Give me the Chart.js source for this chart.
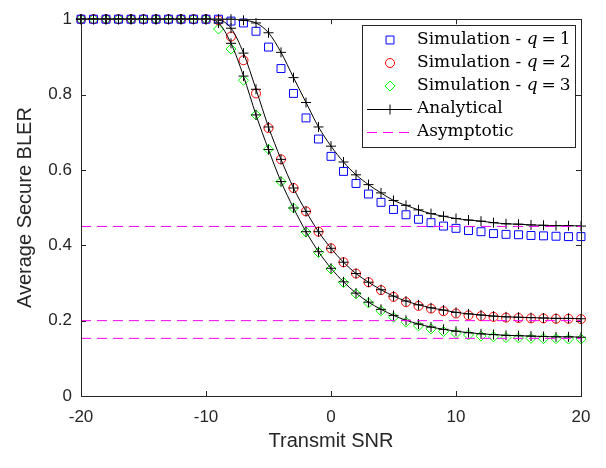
<!DOCTYPE html>
<html>
<head>
<meta charset="utf-8">
<script src="https://cdn.jsdelivr.net/npm/chart.js@4.4.0/dist/chart.umd.min.js"></script>
<style>
  html, body { margin: 0; padding: 0; background: #fff; }
  #wrap { width: 606px; height: 468px; }
</style>
</head>
<body>
<div id="wrap"><canvas id="bler"></canvas></div>
<script>
// Transmit SNR grid (dB)
const snr = [-20, -19, -18, -17, -16, -15, -14, -13, -12, -11, -10, -9, -8, -7, -6, -5, -4, -3, -2, -1,
  0, 1, 2, 3, 4, 5, 6, 7, 8, 9, 10, 11, 12, 13, 14, 15, 16, 17, 18, 19, 20];

// Monte Carlo results
const simQ1 = [1, 1, 1, 1, 1, 1, 1, 1, 1, 1, 1, 1, 0.995, 0.99, 0.968, 0.926, 0.869, 0.803, 0.738, 0.682,
  0.636, 0.596, 0.564, 0.536, 0.514, 0.495, 0.481, 0.469, 0.46, 0.451, 0.445, 0.439, 0.436, 0.431, 0.429, 0.428,
  0.426, 0.425, 0.424, 0.423, 0.423];
const simQ2 = [1, 1, 1, 1, 1, 1, 1, 1, 1, 1, 1, 0.997, 0.954, 0.891, 0.803, 0.711, 0.628, 0.552, 0.49, 0.436,
  0.392, 0.355, 0.325, 0.302, 0.281, 0.263, 0.249, 0.239, 0.232, 0.225, 0.219, 0.214, 0.212, 0.21, 0.208, 0.207,
  0.206, 0.206, 0.205, 0.205, 0.204];
const simQ3 = [1, 1, 1, 1, 1, 1, 1, 1, 1, 1, 1, 0.974, 0.921, 0.838, 0.746, 0.655, 0.569, 0.499, 0.435, 0.381,
  0.337, 0.301, 0.271, 0.247, 0.226, 0.209, 0.196, 0.186, 0.178, 0.171, 0.166, 0.162, 0.159, 0.157, 0.155, 0.154,
  0.153, 0.152, 0.152, 0.151, 0.151];

// Closed-form expressions
const anaQ1 = [1, 1, 1, 1, 1, 1, 1, 1, 1, 1, 1, 1, 1, 0.997, 0.99, 0.964, 0.912, 0.845, 0.779, 0.714,
  0.663, 0.621, 0.587, 0.561, 0.539, 0.519, 0.506, 0.494, 0.484, 0.477, 0.471, 0.467, 0.464, 0.46, 0.457, 0.456,
  0.454, 0.453, 0.452, 0.452, 0.451];
const anaQ2 = [1, 1, 1, 1, 1, 1, 1, 1, 1, 1, 1, 0.998, 0.976, 0.91, 0.814, 0.714, 0.628, 0.552, 0.49, 0.436,
  0.392, 0.355, 0.325, 0.302, 0.282, 0.265, 0.252, 0.242, 0.234, 0.228, 0.222, 0.218, 0.215, 0.212, 0.21, 0.209,
  0.208, 0.207, 0.206, 0.206, 0.205];
const anaQ3 = [1, 1, 1, 1, 1, 1, 1, 1, 1, 1, 1, 0.99, 0.936, 0.849, 0.746, 0.654, 0.569, 0.499, 0.436, 0.383,
  0.339, 0.303, 0.273, 0.249, 0.23, 0.214, 0.201, 0.191, 0.183, 0.177, 0.172, 0.168, 0.165, 0.163, 0.161, 0.16,
  0.159, 0.158, 0.157, 0.157, 0.156];

// High-SNR floors
const asymptotes = [0.45, 0.2, 0.153];

const xTicks = [-20, -10, 0, 10, 20];
const yTicks = [0, 0.2, 0.4, 0.6, 0.8, 1];

const axisColor = '#262626';
const pts = ys => snr.map((x, i) => ({ x: x, y: ys[i] }));
const flat = v => [{ x: snr[0], y: v }, { x: snr[snr.length - 1], y: v }];

const simStyle = (ys, color, shape, r) => ({
  data: pts(ys), showLine: false, pointStyle: shape, pointRadius: r,
  pointBorderColor: color, pointBackgroundColor: 'rgba(0,0,0,0)', pointBorderWidth: 1,
  borderColor: color, clip: false, order: 3
});
const anaStyle = ys => ({
  data: pts(ys), showLine: true, borderColor: '#000', borderWidth: 1,
  cubicInterpolationMode: 'monotone', pointStyle: 'cross', pointRadius: 5,
  pointBorderColor: '#000', pointBorderWidth: 1, clip: false, order: 2
});
const asyStyle = v => ({
  data: flat(v), showLine: true, borderColor: '#ff00ff', borderWidth: 1,
  borderDash: [10, 6], pointRadius: 0, order: 1
});

// Box, inward ticks, axis titles and the legend are drawn by hand
const framePlugin = {
  id: 'frame',
  afterDatasetsDraw(chart) {
    const { ctx, chartArea: a, scales } = chart;
    ctx.save();
    ctx.strokeStyle = axisColor;
    ctx.lineWidth = 1;
    ctx.strokeRect(Math.round(a.left) + 0.5, Math.round(a.top) + 0.5,
      Math.round(a.right - a.left), Math.round(a.bottom - a.top));
    ctx.beginPath();
    xTicks.forEach(t => {
      const px = Math.round(scales.x.getPixelForValue(t)) + 0.5;
      ctx.moveTo(px, a.bottom); ctx.lineTo(px, a.bottom - 5);
      ctx.moveTo(px, a.top); ctx.lineTo(px, a.top + 5);
    });
    yTicks.forEach(t => {
      const py = Math.round(scales.y.getPixelForValue(t)) + 0.5;
      ctx.moveTo(a.left, py); ctx.lineTo(a.left + 5, py);
      ctx.moveTo(a.right, py); ctx.lineTo(a.right - 5, py);
    });
    ctx.stroke();
    ctx.restore();
  },
  afterDraw(chart) {
    const { ctx, chartArea: a } = chart;
    ctx.save();
    ctx.fillStyle = axisColor;
    ctx.font = '20px "Liberation Sans", Arial, sans-serif';
    ctx.textAlign = 'center';
    ctx.textBaseline = 'middle';
    ctx.fillText('Transmit SNR', (a.left + a.right) / 2, 441);
    ctx.translate(25, (a.top + a.bottom) / 2);
    ctx.rotate(-Math.PI / 2);
    ctx.fillText('Average Secure BLER', 0, 0);
    ctx.restore();

    // legend
    const L = 362.5, T = 25.5, W = 213, H = 122;
    ctx.save();
    ctx.fillStyle = '#fff';
    ctx.fillRect(L, T, W, H);
    ctx.strokeStyle = axisColor;
    ctx.lineWidth = 1;
    ctx.strokeRect(L, T, W, H);
    const rows = [40, 63, 86, 109, 132];
    const sym = 390, textX = 417;
    const serif = '"DejaVu Serif", "Liberation Serif", serif';
    const labelQ = (y, q) => {
      ctx.font = '17px ' + serif;
      ctx.fillStyle = '#000';
      ctx.textAlign = 'left';
      ctx.textBaseline = 'middle';
      let x = textX;
      ctx.fillText('Simulation - ', x, y); x += ctx.measureText('Simulation - ').width;
      ctx.font = 'italic 17px ' + serif;
      ctx.fillText('q', x, y); x += ctx.measureText('q').width + 4;
      ctx.font = '17px ' + serif;
      ctx.fillText('=', x, y); x += ctx.measureText('=').width + 4;
      ctx.fillText(String(q), x, y);
    };
    const ds = chart.data.datasets;
    const drawSym = (i, y) => {
      const d = ds[i];
      ctx.strokeStyle = d.pointBorderColor;
      ctx.fillStyle = 'rgba(0,0,0,0)';
      ctx.lineWidth = 1;
      Chart.helpers.drawPoint(ctx, { pointStyle: d.pointStyle, radius: d.pointRadius, borderWidth: 1, rotation: 0 }, sym, y);
    };
    drawSym(0, rows[0]); labelQ(rows[0], 1);
    drawSym(1, rows[1]); labelQ(rows[1], 2);
    drawSym(2, rows[2]); labelQ(rows[2], 3);
    // analytical sample
    ctx.strokeStyle = '#000';
    ctx.beginPath(); ctx.moveTo(367, rows[3] + 0.5); ctx.lineTo(412, rows[3] + 0.5); ctx.stroke();
    ctx.fillStyle = 'rgba(0,0,0,0)';
    Chart.helpers.drawPoint(ctx, { pointStyle: 'cross', radius: 5, borderWidth: 1, rotation: 0 }, sym, rows[3] + 0.5);
    ctx.fillStyle = '#000';
    ctx.font = '17px ' + serif;
    ctx.fillText('Analytical', textX, rows[3]);
    // asymptotic sample
    ctx.strokeStyle = '#ff00ff';
    ctx.setLineDash([10, 6]);
    ctx.beginPath(); ctx.moveTo(367, rows[4] + 0.5); ctx.lineTo(412, rows[4] + 0.5); ctx.stroke();
    ctx.setLineDash([]);
    ctx.fillText('Asymptotic', textX, rows[4]);
    ctx.restore();
  }
};

const tickFont = { family: '"Liberation Sans", Arial, sans-serif', size: 17 };

new Chart(document.getElementById('bler'), {
  type: 'scatter',
  data: {
    datasets: [
      simStyle(simQ1, '#0000ff', 'rect', 5.6),
      simStyle(simQ2, '#ff0000', 'circle', 4.5),
      simStyle(simQ3, '#00ff00', 'rectRot', 5),
      anaStyle(anaQ1), anaStyle(anaQ2), anaStyle(anaQ3),
      ...asymptotes.map(asyStyle)
    ]
  },
  options: {
    responsive: true,
    maintainAspectRatio: false,
    animation: false,
    events: [],
    layout: { padding: { top: 15, right: 25, left: 0, bottom: 0 } },
    plugins: { legend: { display: false }, tooltip: { enabled: false } },
    scales: {
      x: {
        type: 'linear', min: -20, max: 20,
        afterBuildTicks: s => { s.ticks = xTicks.map(v => ({ value: v })); },
        afterFit: s => { s.height = 72; },
        grid: { display: false, drawTicks: false },
        border: { display: false },
        ticks: { color: axisColor, padding: 11, font: tickFont, callback: v => String(v) }
      },
      y: {
        type: 'linear', min: 0, max: 1,
        afterBuildTicks: s => { s.ticks = yTicks.map(v => ({ value: v })); },
        afterFit: s => { s.width = 81; },
        grid: { display: false, drawTicks: false },
        border: { display: false },
        ticks: { color: axisColor, padding: 9, font: tickFont, callback: v => String(v) }
      }
    }
  },
  plugins: [framePlugin]
});
</script>
</body>
</html>
